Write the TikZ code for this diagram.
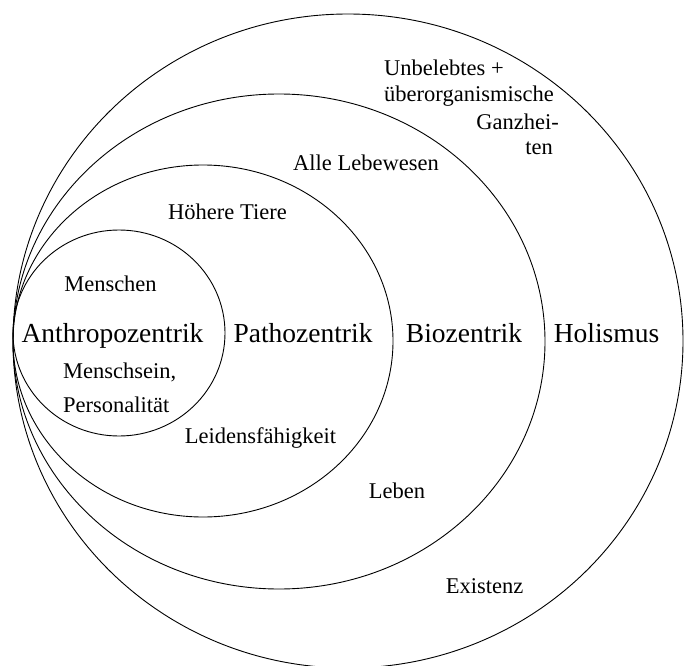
\documentclass[tikz,border=0pt]{standalone}
\usepackage{fontspec}
\setmainfont{Liberation Serif}
\usepackage{tikz}
\tikzset{
  ring/.style = {draw=black, line width=0.9pt},
  zentrik/.style = {inner sep=0pt, anchor=base, font=\fontsize{27.5}{32}\selectfont},
  merkmal/.style = {inner sep=0pt, anchor=base, font=\fontsize{22.5}{34}\selectfont},
}

\begin{document}
\begin{tikzpicture}[x=1pt, y=-1pt]
        \useasboundingbox (0,0) rectangle (688,666);
        % nested circles, all touching on the left
        \draw[ring] (348,341) ellipse (335 and 327);
        \draw[ring] (279,341.5) ellipse (266 and 247.5);
        \draw[ring] (203,341) ellipse (190 and 176);
        \draw[ring] (119,333) ellipse (106 and 103);
        % headings
        \node[zentrik] (anthro) at (112.5,342) {Anthropozentrik};
        \node[zentrik] (patho) at (303,342) {Pathozentrik};
        \node[zentrik] (bio) at (464,342) {Biozentrik};
        \node[zentrik] (holis) at (606.5,342) {Holismus};
        % who counts
        \node[merkmal] (menschen) at (110.5,291) {Menschen};
        \node[merkmal] (tiere) at (227.5,219) {Höhere Tiere};
        \node[merkmal] (lebewesen) at (366,171) {Alle Lebewesen};
        \node[merkmal, anchor=base west] (unbelebt) at (384,76) {Unbelebtes +};
        \node[merkmal, anchor=base west] (ueberorg) at (384,102) {überorganismische};
        \node[merkmal, anchor=base east] (ganzhei) at (559,130) {Ganzhei-};
        \node[merkmal, anchor=base east] (ten) at (553,155) {ten};
        % criterion
        \node[merkmal, anchor=base west] (menschsein) at (63,378) {Menschsein,};
        \node[merkmal, anchor=base west] (person) at (63,412) {Personalität};
        \node[merkmal] (leiden) at (260.5,443) {Leidensfähigkeit};
        \node[merkmal] (leben) at (397,498) {Leben};
        \node[merkmal] (existenz) at (484.5,593) {Existenz};
    \end{tikzpicture}
\end{document}
